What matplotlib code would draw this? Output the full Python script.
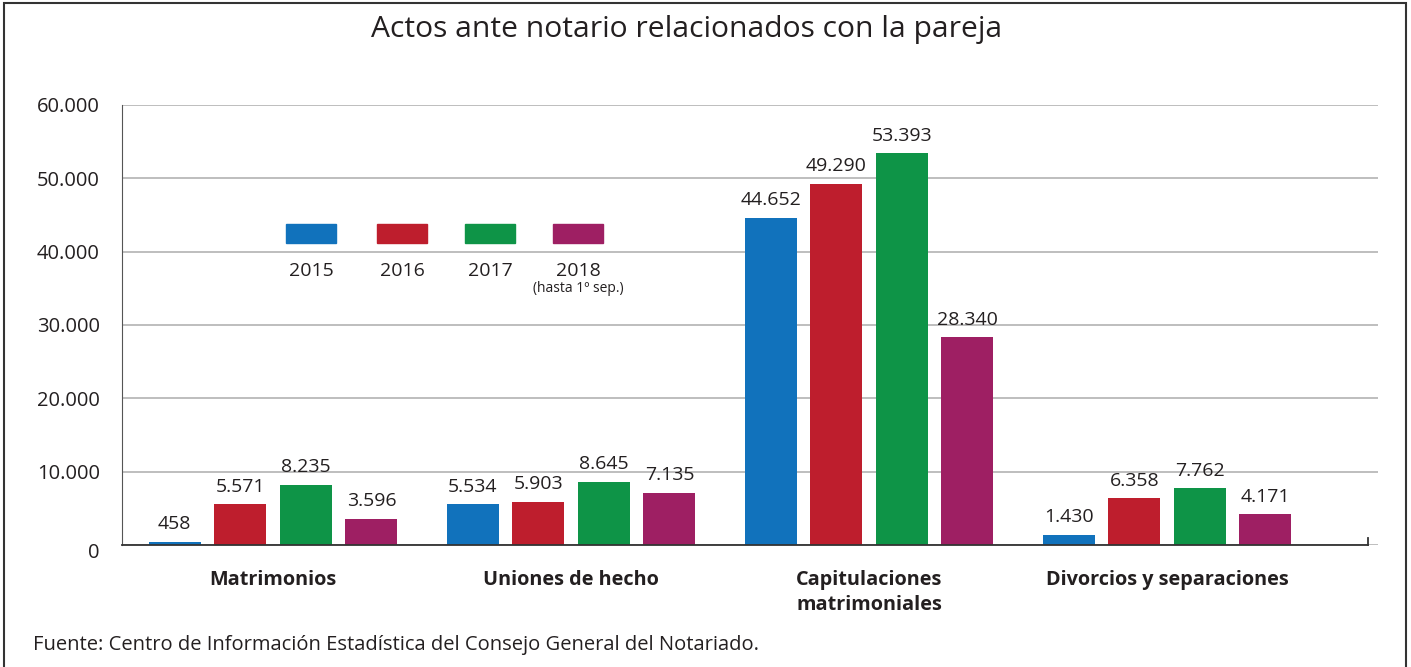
import numpy as np
import matplotlib.pyplot as plt
from matplotlib.patches import Rectangle

plt.rcParams['font.family'] = ['Open Sans', 'DejaVu Sans']

categories = ['Matrimonios', 'Uniones de hecho', 'Capitulaciones\nmatrimoniales', 'Divorcios y separaciones']
years = ['2015', '2016', '2017', '2018']
values = {
    '2015': [458, 5534, 44652, 1430],
    '2016': [5571, 5903, 49290, 6358],
    '2017': [8235, 8645, 53393, 7762],
    '2018': [3596, 7135, 28340, 4171],
}
colors = ['#1172bc', '#be1e2d', '#0e9447', '#9e1f63']
yticks = [0, 10000, 20000, 30000, 40000, 50000, 60000]
ytick_labels = ['0', '10.000', '20.000', '30.000', '40.000', '50.000', '60.000']
txt = '#231f20'

fig = plt.figure(figsize=(14.11, 6.67), dpi=100)
ax = fig.add_axes([122 / 1411, 122 / 667, 1256 / 1411, 440 / 667])

x = np.arange(len(categories))
width = 0.175
step = 0.22
for i, yr in enumerate(years):
    xs = x + (i - 1.5) * step
    bars = ax.bar(xs, values[yr], width=width, color=colors[i], zorder=3)
    for b, v in zip(bars, values[yr]):
        lbl = f'{v:,}'.replace(',', '.')
        ax.annotate(lbl, (b.get_x() + b.get_width() / 2, v), xytext=(0, 6),
                    textcoords='offset points', ha='center', va='bottom',
                    fontsize=14, color=txt)

ax.set_xlim(-0.507, 3.708)
ax.set_ylim(0, 60000)
ax.set_yticks(yticks)
# the "0" label sits a little lower than its line, drawn separately below
ax.set_yticklabels([''] + ytick_labels[1:], fontsize=14.5, color=txt)
ax.annotate(ytick_labels[0], (0, 0), xycoords=('axes fraction', 'data'),
            xytext=(-16, -6), textcoords='offset points', ha='right', va='center',
            fontsize=14.5, color=txt)
ax.yaxis.grid(True, color='#b3b3b3', linewidth=1.2, zorder=0)
ax.tick_params(axis='y', length=0, pad=16)
ax.set_xticks([])
for s in ['top', 'right']:
    ax.spines[s].set_visible(False)
ax.spines['left'].set_color('#555555')
ax.spines['bottom'].set_color('#333333')
ax.spines['bottom'].set_linewidth(1.3)
ax.spines['bottom'].set_bounds(-0.507, 3.674)
ax.spines['bottom'].set_zorder(4)
ax.plot([3.674, 3.674], [0, 900], color='#333333', lw=1.3, clip_on=False, zorder=4)

for xi, cat in zip(x, categories):
    ax.text(xi, -3400, cat, ha='center', va='top', fontsize=14.3, fontweight='bold',
            color=txt, linespacing=1.35)

# legend
leg_x = [286, 377, 465, 553]
for i, yr in enumerate(years):
    fig.patches.append(Rectangle((leg_x[i] / 1411, (667 - 243) / 667), 50 / 1411, 19 / 667,
                                 transform=fig.transFigure, color=colors[i]))
    fig.text((leg_x[i] + 25) / 1411, 1 - 271 / 667, yr, ha='center', va='center',
             fontsize=14, color=txt)
fig.text((553 + 25) / 1411, 1 - 288 / 667, '(hasta 1º sep.)', ha='center', va='center',
         fontsize=10, color=txt)

fig.text(687 / 1411, 1 - 30 / 667, 'Actos ante notario relacionados con la pareja',
         ha='center', va='center', fontsize=21.6, color=txt)
fig.text(33 / 1411, 1 - 645 / 667,
         'Fuente: Centro de Información Estadística del Consejo General del Notariado.',
         ha='left', va='center', fontsize=14.5, color=txt)

fig.patches.append(Rectangle((4 / 1411, -0.05), 1402 / 1411, 1.05 - 3 / 667,
                             transform=fig.transFigure, fill=False,
                             edgecolor='#333333', linewidth=1.5))

fig.savefig('out.png', dpi=100)
